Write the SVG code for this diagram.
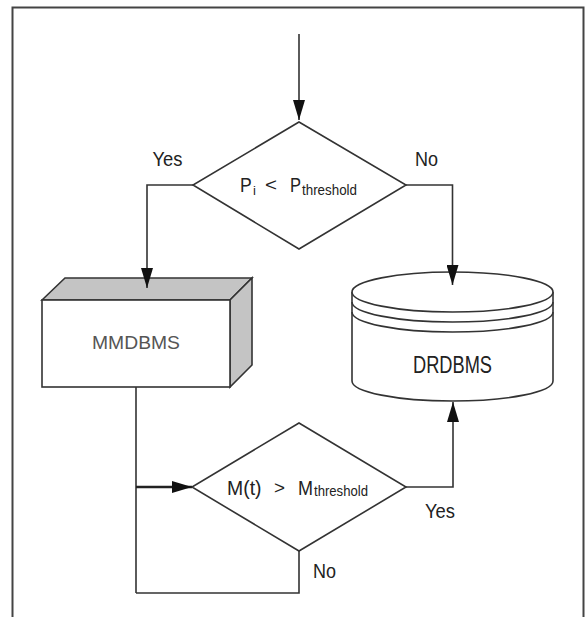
<svg xmlns="http://www.w3.org/2000/svg" width="587" height="617" viewBox="0 0 587 617">
<defs>
<marker id="arr" markerUnits="userSpaceOnUse" markerWidth="20" markerHeight="12" refX="20" refY="6" orient="auto">
<path d="M0,0 L20,6 L0,12 z" fill="#111"/>
</marker>
<style>
.ln{fill:none;stroke:#333;stroke-width:1.6}
.sh{stroke:#333;stroke-width:1.6;stroke-linejoin:miter}
.t{font-family:"Liberation Sans",Arial,sans-serif;fill:#222}
.m{font-family:"Liberation Sans",Arial,sans-serif;fill:#555}
</style>
</defs>
<rect width="587" height="617" fill="#fff"/>
<path d="M12.5,617 V7.5 H583.5 V617" fill="none" stroke="#444" stroke-width="2"/>

<g id="decision1">
<polygon class="sh" fill="#fff" points="299,122 406,185 299,249 193,185"/>
<text class="t" x="240" y="192" font-size="20" textLength="11.7" lengthAdjust="spacingAndGlyphs">P</text>
<text class="t" x="253" y="194.5" font-size="13">i</text>
<text class="t" x="265" y="191" font-size="18" textLength="12" lengthAdjust="spacingAndGlyphs">&lt;</text>
<text class="t" x="290" y="192" font-size="20" textLength="11" lengthAdjust="spacingAndGlyphs">P</text>
<text class="t" x="302" y="194.5" font-size="15.5" textLength="55" lengthAdjust="spacingAndGlyphs">threshold</text>
</g>

<g id="mmdbms">
<polygon class="sh" fill="#c4c4c4" points="42,300 65,278 252,278 230,300"/>
<polygon class="sh" fill="#c4c4c4" points="230,300 252,278 252,365 230,387"/>
<rect class="sh" fill="#fff" x="42" y="300" width="188" height="87"/>
<text class="m" x="136" y="349" font-size="19" text-anchor="middle" textLength="88" lengthAdjust="spacingAndGlyphs">MMDBMS</text>
</g>

<g id="drdbms">
<path class="sh" fill="#fff" d="M352,292 V381 A100.5,20 0 0 0 553,381 V292"/>
<ellipse class="sh" fill="#fff" cx="452.5" cy="292" rx="100.5" ry="20"/>
<path class="ln" d="M352,302 A100.5,20 0 0 0 553,302"/>
<path class="ln" d="M352,312 A100.5,20 0 0 0 553,312"/>
<text class="t" x="452.5" y="373" font-size="23" text-anchor="middle" textLength="79" lengthAdjust="spacingAndGlyphs">DRDBMS</text>
</g>

<g id="decision2">
<polygon class="sh" fill="#fff" points="299,423 406,487 299,551 192,487"/>
<text class="t" x="227" y="494.5" font-size="21" textLength="34.5" lengthAdjust="spacingAndGlyphs">M(t)</text>
<text class="t" x="274" y="493.5" font-size="18" textLength="11" lengthAdjust="spacingAndGlyphs">&gt;</text>
<text class="t" x="298" y="494.5" font-size="21" textLength="15" lengthAdjust="spacingAndGlyphs">M</text>
<text class="t" x="314" y="496" font-size="15.5" textLength="54" lengthAdjust="spacingAndGlyphs">threshold</text>
</g>

<g id="connectors">
<line class="ln" x1="299" y1="34" x2="299" y2="120" marker-end="url(#arr)"/>
<polyline class="ln" points="193,185 147,185 147,288" marker-end="url(#arr)"/>
<polyline class="ln" points="406,185 452.5,185 452.5,285" marker-end="url(#arr)"/>
<line x1="136" y1="387" x2="136" y2="593" class="ln"/>
<line x1="136" y1="487" x2="192" y2="487" fill="none" stroke="#222" stroke-width="2.5" marker-end="url(#arr)"/>
<polyline class="ln" points="299,551 299,593 136,593"/>
<polyline class="ln" points="406,487 453,487 453,402" marker-end="url(#arr)"/>
<text class="t" x="152.5" y="166" font-size="20" textLength="30" lengthAdjust="spacingAndGlyphs">Yes</text>
<text class="t" x="415" y="166" font-size="20" textLength="23" lengthAdjust="spacingAndGlyphs">No</text>
<text class="t" x="425" y="518" font-size="20" textLength="30" lengthAdjust="spacingAndGlyphs">Yes</text>
<text class="t" x="313" y="578" font-size="20" textLength="23" lengthAdjust="spacingAndGlyphs">No</text>
</g>
</svg>
